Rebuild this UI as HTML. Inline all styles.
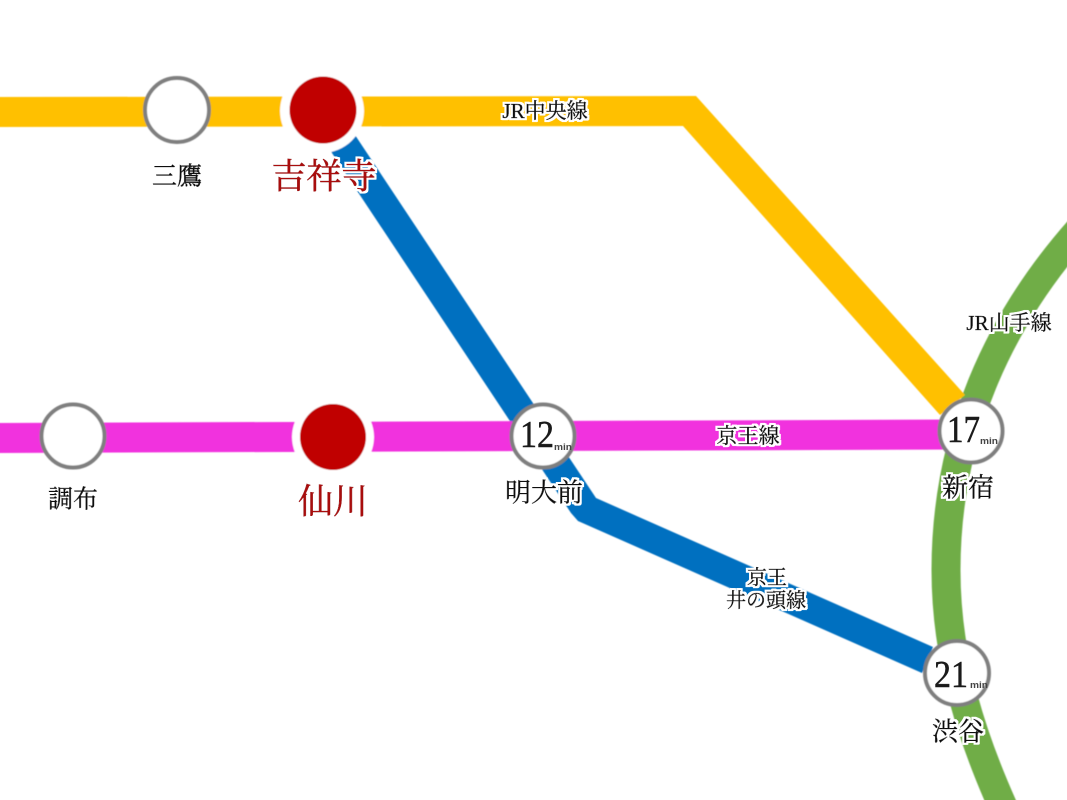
<!DOCTYPE html>
<html lang="ja"><head><meta charset="utf-8"><title>路線図</title>
<style>
html,body{margin:0;padding:0;background:#fff;width:1067px;height:800px;overflow:hidden}
svg{display:block}
text{font-family:"Liberation Serif","Noto Serif CJK JP",serif;text-anchor:middle;dominant-baseline:central}
.h{stroke:#111;stroke-width:.45px;fill:#111;filter:url(#t)}
.r{stroke:#a80f0f;stroke-width:.6px;fill:#a80f0f;filter:url(#t)}
.n{font-size:38px;fill:#1a1a1a;stroke:#1a1a1a;stroke-width:.5px;text-anchor:start}
.m{font-family:"Liberation Sans",sans-serif;font-size:9px;font-weight:bold;fill:#444;text-anchor:start}
</style></head><body>
<svg width="1067" height="800" viewBox="0 0 1067 800" xmlns="http://www.w3.org/2000/svg">
<defs>
<filter id="s" x="-5%" y="-5%" width="110%" height="110%"><feGaussianBlur stdDeviation="0.45"/></filter>
<filter id="t" x="-15%" y="-25%" width="130%" height="150%"><feMorphology in="SourceAlpha" operator="dilate" radius="2.2" result="d"/><feFlood flood-color="#fff"/><feComposite in2="d" operator="in" result="w"/><feMerge><feMergeNode in="w"/><feMergeNode in="SourceGraphic"/></feMerge></filter>
</defs>
<g filter="url(#s)">
<path d="M1090,218 C995,320 946,440 946,570 C946,660 972,740 1009,820" fill="none" stroke="#70ad47" stroke-width="29"/>
<polygon points="-5,97 696,96 965,395 940,415 683,126 -5,127" fill="#ffc000"/>
<polygon points="355,135 596,498 933,647 922,673 578,521 571,513 330,150" fill="#0070c0"/>
<path d="M-5,438 L960,434.500" fill="none" stroke="#f133de" stroke-width="30"/>
<circle cx="322" cy="111" r="42" fill="#fff"/>
<circle cx="333" cy="437" r="41" fill="#fff"/>
<circle cx="323" cy="110" r="33.500" fill="#c00000"/>
<circle cx="333" cy="437" r="33" fill="#c00000"/>
<g fill="#fff" stroke="#7f7f7f" stroke-width="4">
<circle cx="177" cy="110" r="32"/>
<circle cx="73" cy="436" r="31.500"/>
<circle cx="543" cy="436" r="31.500"/>
<circle cx="971" cy="431" r="31.500"/>
<circle cx="957" cy="673" r="32"/>
</g>
</g>
<text x="520" y="435" class="n" textLength="34" lengthAdjust="spacingAndGlyphs">12</text><text x="554" y="447" class="m" textLength="18" lengthAdjust="spacingAndGlyphs">min</text>
<text x="947" y="430" class="n" textLength="33" lengthAdjust="spacingAndGlyphs">17</text><text x="980" y="441" class="m" textLength="18" lengthAdjust="spacingAndGlyphs">min</text>
<text x="934" y="675" class="n" textLength="34" lengthAdjust="spacingAndGlyphs">21</text><text x="970" y="685" class="m" textLength="18" lengthAdjust="spacingAndGlyphs">min</text>
<text x="177" y="177" class="h" font-size="25">三鷹</text>
<text x="324" y="177" class="r" font-size="35">吉祥寺</text>
<text x="73" y="500" class="h" font-size="25">調布</text>
<text x="333" y="502" class="r" font-size="35">仙川</text>
<text x="544" y="493" class="h" font-size="26">明大前</text>
<text x="968" y="488" class="h" font-size="26">新宿</text>
<text x="958" y="732" class="h" font-size="26">渋谷</text>
<text x="545" y="111" class="h" font-size="21">JR中央線</text>
<text x="748" y="436" class="h" font-size="21">京王線</text>
<text x="1009" y="323" class="h" font-size="21">JR山手線</text>
<text x="767" y="578" class="h" font-size="20">京王</text>
<text x="766" y="601" class="h" font-size="20">井の頭線</text>
</svg>
</body></html>
